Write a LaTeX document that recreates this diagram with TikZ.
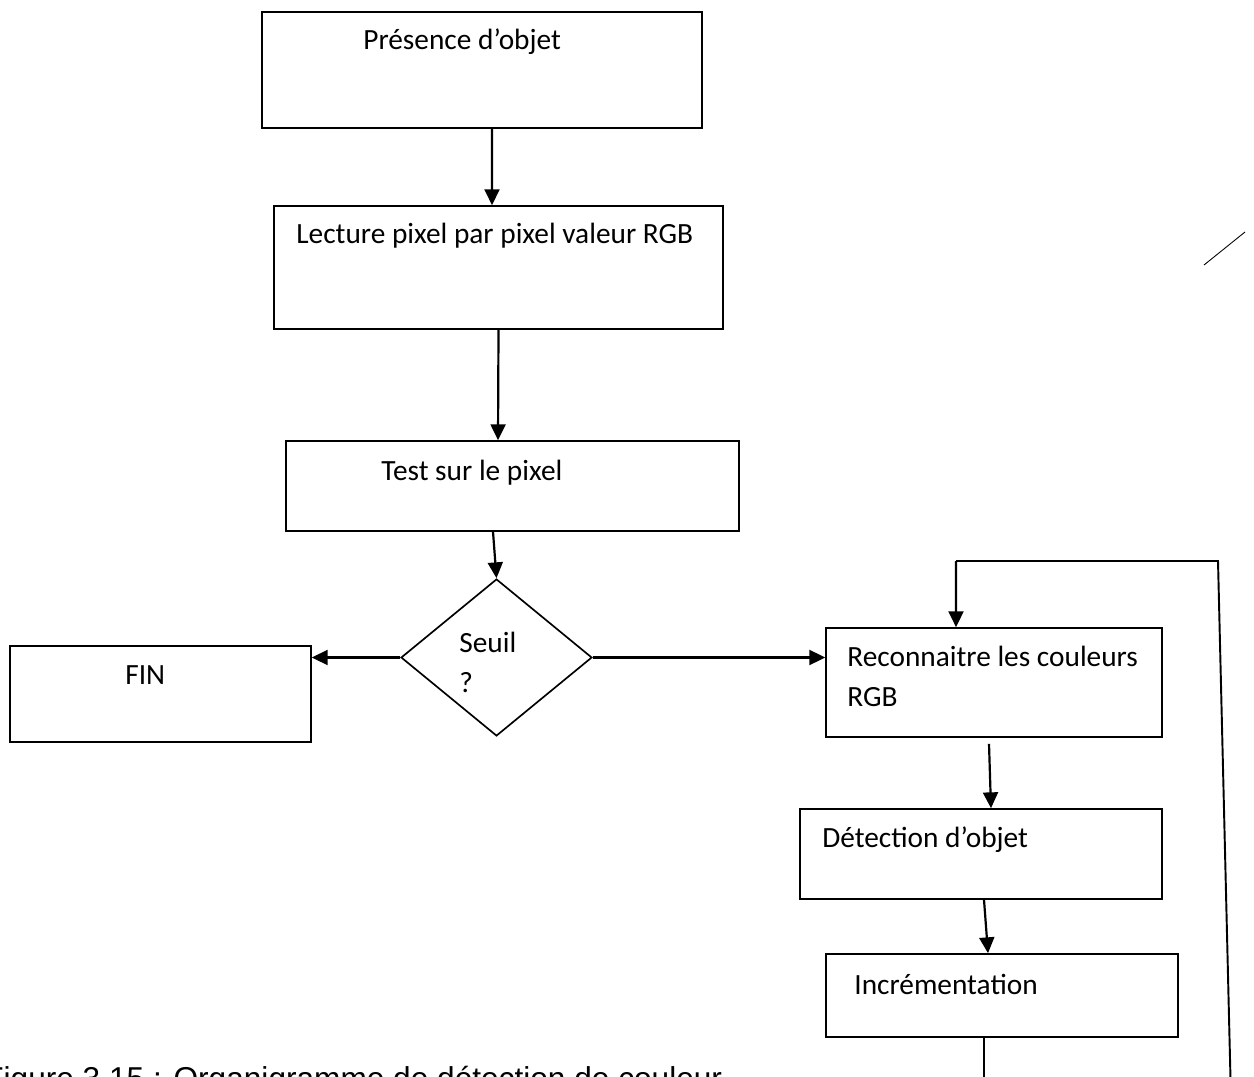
\documentclass[tikz,border=0pt]{standalone}
\usepackage{fontspec}
\setmainfont{Carlito}
\newfontfamily\legende{Liberation Sans}
\usepackage{tikz}
\usetikzlibrary{arrows.meta}
\usetikzlibrary{shapes.geometric}

\tikzset{
    boite/.style={draw, line width=0.95pt, inner sep=0pt},
    losange/.style={draw, diamond, line width=0.95pt, inner sep=0pt},
    fleche/.style={line width=1.25pt, -{Triangle[length=9pt,width=8.5pt]}},
    texte/.style={anchor=base west, inner sep=0pt, font=\fontsize{16.7}{20}\selectfont}
}

\begin{document}
\begin{tikzpicture}[x=0.02cm, y=-0.02cm]
    \useasboundingbox (0,0) rectangle (1254,1077);
    \clip (0,0) rectangle (1254,1077);

    \node[boite, minimum width=8.8cm, minimum height=2.32cm] (presence) at (482,70) {};
    \node[boite, minimum width=8.98cm, minimum height=2.46cm] (lecture) at (498.5,267.5) {};
    \node[boite, minimum width=9.06cm, minimum height=1.8cm] (test) at (512.5,486) {};
    \node[losange, minimum width=3.82cm, minimum height=3.14cm] (seuil) at (496.5,657.5) {};
    \node[boite, minimum width=6.02cm, minimum height=1.92cm] (fin) at (160.5,694) {};
    \node[boite, minimum width=6.72cm, minimum height=2.18cm] (reco) at (994,682.5) {};
    \node[boite, minimum width=7.24cm, minimum height=1.8cm] (detect) at (981,854) {};
    \node[boite, minimum width=7.04cm, minimum height=1.66cm] (incr) at (1002,995.5) {};

    \node[texte] (tpresence) at (363,50) {Présence d’objet};
    \node[texte] (tlecture) at (296,244) {Lecture pixel par pixel valeur RGB};
    \node[texte] (ttest) at (381,480) {Test sur le pixel};
    \node[texte] (tseuil) at (459,652) {Seuil};
    \node[texte] (tquestion) at (459,692) {?};
    \node[texte] (tfin) at (125,684) {FIN};
    \node[texte] (treco) at (847,666) {Reconnaitre les couleurs};
    \node[texte] (trgb) at (847,706) {RGB};
    \node[texte] (tdetect) at (822,847) {Détection d’objet};
    \node[texte] (tincr) at (854,994) {Incrémentation};

    \coordinate (bas) at (984,1100);
    \coordinate (retour) at (1231,1100);
    \coordinate (coin) at (1218,561);
    \coordinate (haut) at (956,561);

    \draw[fleche] ([xshift=0.2cm]presence.south) -- ([xshift=-0.13cm]lecture.north);
    \draw[fleche] (lecture.south) -- ([xshift=-0.29cm]test.north);
    \draw[fleche] ([xshift=-0.39cm]test.south) -- (seuil.north);
    \draw[fleche] (seuil.east) -- (reco.west |- seuil.east);
    \draw[fleche] (seuil.west) -- (fin.east |- seuil.west);
    \draw[fleche] ([xshift=-0.1cm,yshift=-0.12cm]reco.south) -- ([xshift=0.2cm]detect.north);
    \draw[fleche] ([xshift=0.06cm]detect.south) -- ([xshift=-0.28cm]incr.north);
    \draw[line width=1pt] ([xshift=-0.36cm]incr.south) -- (bas);
    % boucle de retour
    \draw[line width=1.1pt] (retour) -- (coin) -- (haut);
    \draw[fleche] (haut) -- ([xshift=-0.76cm]reco.north);

    \draw[line width=0.5pt] (1204,265) -- (1245,232);

    \node[anchor=base west, inner sep=0pt, font=\legende\fontsize{18}{21}\selectfont] (legende) at (-16,1089) {Figure 3.15 : Organigramme de détection de couleur};
\end{tikzpicture}
\end{document}
